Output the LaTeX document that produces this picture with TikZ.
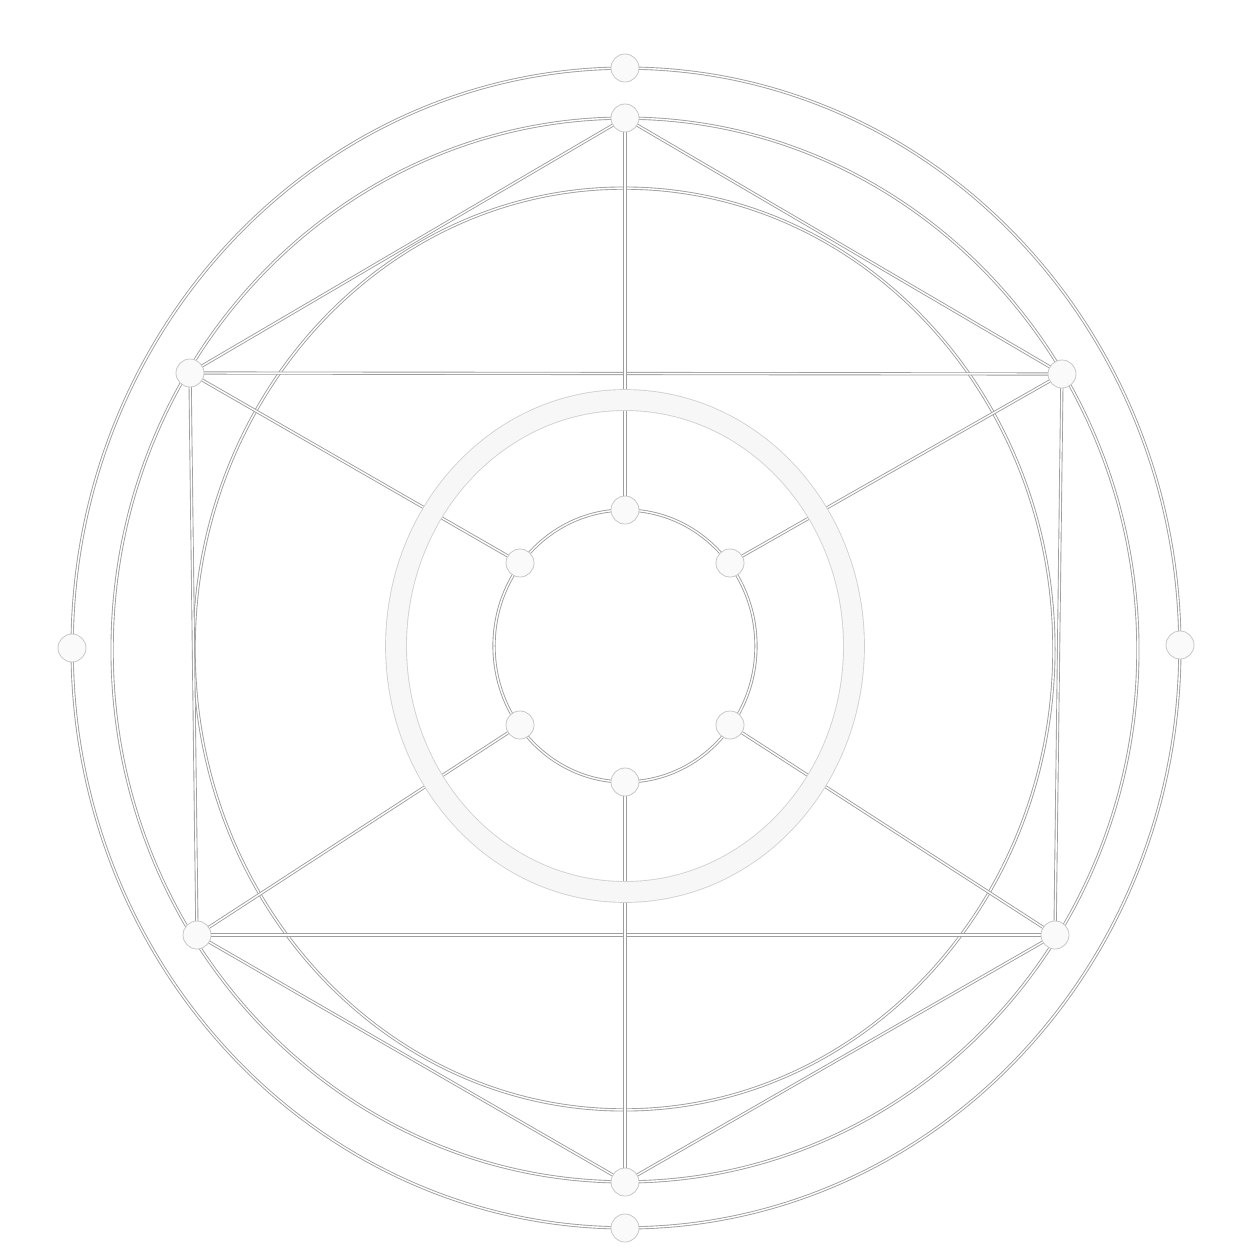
\documentclass[tikz,border=0pt]{standalone}
\begin{document}
\begin{tikzpicture}[x=0.02cm,y=-0.02cm,
  wire/.style={draw=black!38, line width=0.5pt, double=white, double distance=0.8pt},
  ringline/.style={draw=black!18, line width=0.5pt, double=black!3, double distance=0.4cm},
  dot/.style={circle, draw=black!22, line width=0.45pt, fill=black!2, minimum size=0.56cm, inner sep=0pt}]
\fill[white] (0,0) rectangle (1254,1254);
\useasboundingbox (0,0) rectangle (1254,1254);
% ellipses
\draw[wire] (626,648) ellipse [x radius=11.08cm, y radius=11.6cm];
\draw[wire] (625,650) ellipse [x radius=10.26cm, y radius=10.64cm];
\draw[wire] (624,649) ellipse [x radius=8.6cm, y radius=9.22cm];
\draw[wire] (625,646) ellipse [x radius=2.62cm, y radius=2.72cm];
% dot positions
\coordinate (po1) at (625,68);
\coordinate (pt) at (625,118);
\coordinate (pur) at (1062,374);
\coordinate (plr) at (1055,935);
\coordinate (pb) at (625,1182);
\coordinate (pll) at (197,935);
\coordinate (pul) at (190,373);
\coordinate (po2) at (625,1228);
\coordinate (pol) at (72,648);
\coordinate (por) at (1180,645);
\coordinate (pi1) at (625,510);
\coordinate (pi2) at (730,563);
\coordinate (pi3) at (730,725);
\coordinate (pi4) at (625,782);
\coordinate (pi5) at (520,725);
\coordinate (pi6) at (520,563);
% connectors
\draw[wire] (pt) -- (pur) -- (plr) -- (pb) -- (pll) -- (pul) -- cycle;
\draw[wire] (pul) -- (pur);
\draw[wire] (pll) -- (plr);
\draw[wire] (pt) -- (pi1);
\draw[wire] (pi4) -- (pb);
\draw[wire] (pul) -- (pi6);
\draw[wire] (pur) -- (pi2);
\draw[wire] (pll) -- (pi5);
\draw[wire] (plr) -- (pi3);
% thick ring
\draw[ringline] (625,646) ellipse [x radius=4.58cm, y radius=4.92cm];
% dots
\foreach \n in {o1,t,ur,lr,b,ll,ul,o2,ol,or,i1,i2,i3,i4,i5,i6}
  \node[dot] (\n) at (p\n) {};
\end{tikzpicture}
\end{document}
